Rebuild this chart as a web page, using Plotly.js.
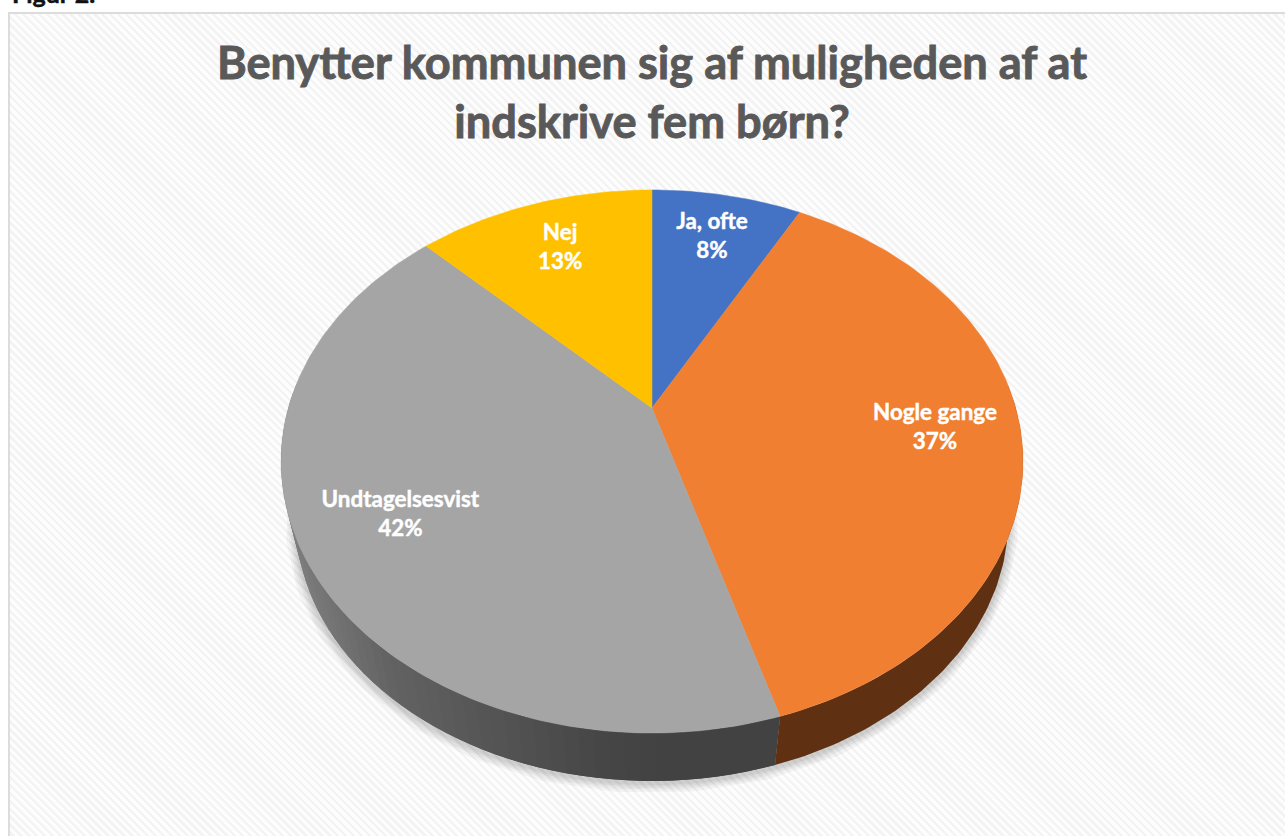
<!DOCTYPE html>
<html>
<head>
<meta charset="utf-8">
<script src="https://cdn.plot.ly/plotly-3.0.1.min.js"></script>
<style>
html,body{margin:0;padding:0;background:#fff;width:1285px;height:836px;overflow:hidden}
#frame{position:absolute;left:8px;top:12px;width:1290px;height:840px;box-sizing:border-box;border:2px solid #dcdcdc;
background:repeating-linear-gradient(45deg,#f3f3f3 0,#f3f3f3 2.4px,#fdfdfd 2.4px,#fdfdfd 5.6px)}
#chart{position:absolute;left:0;top:0;width:1285px;height:836px}
.gtitle{stroke:#595959;stroke-width:0.9px}
.textpoint text{stroke:#ffffff;stroke-width:0.45px}
.annotation-text{stroke:#111111;stroke-width:0.5px}
</style>
</head>
<body>
<div id="frame"></div>
<div id="chart"></div>
<script>
const categories = ["Ja, ofte", "Nogle gange", "Undtagelsesvist", "Nej"];
const shares = [7.9, 37.49, 42.1, 12.51];
const sliceColors = ["#4472C4", "#F07F32", "#A5A5A5", "#FFC000"];
const wallColor = "#5F3112";
const titleText = "Benytter kommunen sig af muligheden af at<br>indskrive fem børn?";
const figureLabel = "Figur 2.";
const labelRadius = [0.77, 0.77, 0.745, 0.75];

// Perspective projection of the unit disc: the chart is a tilted pie
const cx = 652, cy = 408, a = 363.7, b = 261, k = 0.197;
const wallScale = 0.96, wallApexY = 469;
function proj(theta, r) {
  const t = theta * Math.PI / 180, u = r * Math.sin(t), v = r * Math.cos(t), d = 1 + k * v;
  return [a * u / d, -b * v / d];
}
function topPt(theta, r) { const p = proj(theta, r); return [cx + p[0], cy + p[1]]; }
function lowPt(theta) { const p = proj(theta, 1); return [cx + wallScale * p[0], wallApexY + wallScale * p[1]]; }

const total = shares.reduce((s, x) => s + x, 0);
let acc = 0;
const slices = shares.map((p, i) => {
  const s = { i, start: acc / total * 360, end: (acc + p) / total * 360 };
  acc += p; return s;
});

function hex(n) { return Math.round(n).toString(16).padStart(2, "0"); }
function grayShade(x) {
  const xs = [296, 400, 500, 600, 660], g = [128, 98, 84, 70, 66];
  if (x <= xs[0]) return g[0];
  for (let j = 1; j < xs.length; j++) if (x <= xs[j]) return g[j-1] + (g[j]-g[j-1]) * (x-xs[j-1]) / (xs[j]-xs[j-1]);
  return g[g.length-1];
}

const traces = [];
function poly(pts, color, lw) {
  traces.push({ type: "scatter", mode: "lines", x: pts.map(p => p[0]), y: pts.map(p => p[1]),
    fill: "toself", fillcolor: color, line: { color: color, width: lw }, hoverinfo: "skip", showlegend: false });
}

// soft shadow under the rim
const rim = [];
for (let th = 95; th <= 268; th += 1) { const p = lowPt(th); rim.push([p[0], p[1] + 2]); }
[20, 15, 11, 7, 4].forEach(w => traces.push({ type: "scatter", mode: "lines", x: rim.map(p => p[0]), y: rim.map(p => p[1]),
  line: { color: "rgba(60,60,60,0.05)", width: w }, hoverinfo: "skip", showlegend: false }));

// side wall: gray slice in overlapping shaded strips, running from the far end to the near end
const grayS = slices[2], step = 2, strips = [];
for (let th = Math.max(grayS.start, 85); th < Math.min(grayS.end, 275); th += step) strips.push(th);
strips.reverse().forEach(th => {
  const e = Math.min(th + step, grayS.end), st = Math.max(th - step, grayS.start);
  const q = [topPt(st, 1), topPt(e, 1), lowPt(e), lowPt(st)];
  const g = hex(grayShade((lowPt(th)[0] + lowPt(e)[0]) / 2));
  poly(q.concat([q[0]]), "#" + g + g + g, 0);
});
// side wall: orange slice as one piece
const orangeS = slices[1], upper = [], lower = [];
for (let th = Math.max(orangeS.start, 85); th <= orangeS.end; th += 1) { upper.push(topPt(th, 1)); lower.push(lowPt(th)); }
upper.push(topPt(orangeS.end, 1)); lower.push(lowPt(orangeS.end));
poly(upper.concat(lower.reverse()).concat([upper[0]]), wallColor, 0);

// top face
slices.forEach(s => {
  const pts = [[cx, cy]];
  for (let th = s.start; th < s.end; th += 1) pts.push(topPt(th, 1));
  pts.push(topPt(s.end, 1)); pts.push([cx, cy]);
  poly(pts, sliceColors[s.i], 0.5);
});

// labels placed along each slice's middle angle
const labelPts = slices.map((s, i) => topPt((s.start + s.end) / 2, labelRadius[i]));
traces.push({ type: "scatter", mode: "text",
  x: labelPts.map(p => p[0]), y: labelPts.map(p => p[1]),
  text: categories.map((c, i) => c + "<br>" + Math.round(shares[i]) + "%"),
  textposition: "middle center",
  textfont: { family: "Lato, sans-serif", size: 22.4, color: "#ffffff", weight: 700 },
  hoverinfo: "skip", showlegend: false });

const layout = {
  width: 1285, height: 836,
  margin: { l: 0, r: 0, t: 0, b: 0 },
  paper_bgcolor: "rgba(0,0,0,0)", plot_bgcolor: "rgba(0,0,0,0)",
  title: { text: titleText, font: { family: "Lato, sans-serif", size: 45.2, color: "#595959", weight: 700 },
    x: 652 / 1285, xanchor: "center", y: 0.9055, yanchor: "top", yref: "container" },
  xaxis: { range: [0, 1285], visible: false, fixedrange: true },
  yaxis: { range: [836, 0], visible: false, fixedrange: true },
  annotations: [{ text: figureLabel, xref: "paper", yref: "paper", x: 0.0075, y: 1.0, xanchor: "left", yanchor: "bottom", yshift: -10,
    showarrow: false, align: "left", font: { family: "Lato, sans-serif", size: 25, color: "#111111", weight: 700 } }],
  showlegend: false
};
Plotly.newPlot("chart", traces, layout, { displayModeBar: false, staticPlot: true });
</script>
</body>
</html>
